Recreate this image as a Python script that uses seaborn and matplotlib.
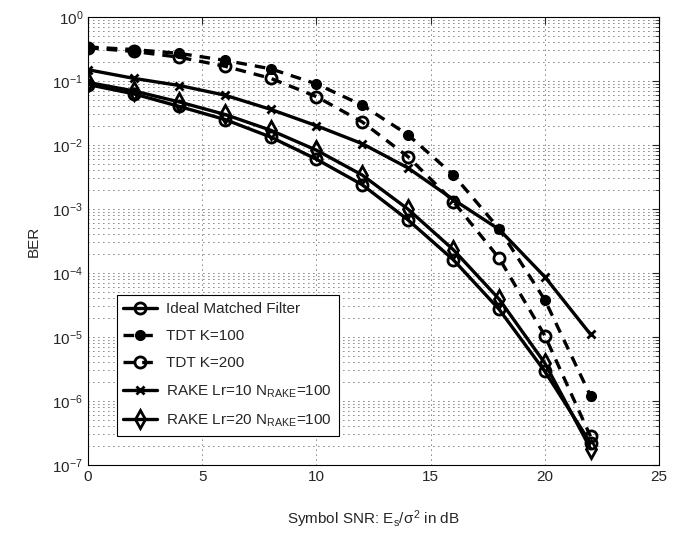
import matplotlib
matplotlib.use("Agg")
import matplotlib.pyplot as plt
import matplotlib.ticker as mticker
import seaborn as sns
import pandas as pd

# SNR points (dB)
snr = [0, 2, 4, 6, 8, 10, 12, 14, 16, 18, 20, 22]

ber_ideal = [0.088, 0.063, 0.040, 0.025, 0.0133, 0.006, 0.0024, 6.8e-4, 1.6e-4, 2.7e-5, 2.9e-6, 2.2e-7]
ber_tdt100 = [0.34, 0.31, 0.27, 0.21, 0.155, 0.09, 0.042, 0.0145, 0.0034, 4.9e-4, 3.8e-5, 1.2e-6]
ber_tdt200 = [0.33, 0.29, 0.235, 0.17, 0.11, 0.057, 0.023, 0.0066, 0.0013, 1.7e-4, 1.05e-5, 2.8e-7]
ber_rake10 = [0.15, 0.11, 0.085, 0.06, 0.036, 0.02, 0.0105, 0.0044, 0.0014, 4.8e-4, 8.7e-5, 1.1e-5]
ber_rake20 = [0.095, 0.07, 0.047, 0.03, 0.017, 0.0083, 0.0034, 0.001, 2.3e-4, 3.9e-5, 3.9e-6, 1.8e-7]

labels = ["Ideal Matched Filter", "TDT K=100", "TDT K=200",
          r"RAKE Lr=10 N$_\mathregular{RAKE}$=100",
          r"RAKE Lr=20 N$_\mathregular{RAKE}$=100"]

y_ticks = [1e-7, 1e-6, 1e-5, 1e-4, 1e-3, 1e-2, 1e-1, 1]
x_ticks = [0, 5, 10, 15, 20, 25]

sns.set_style("white")
plt.rcParams["font.family"] = ["Liberation Sans", "DejaVu Sans"]
plt.rcParams["mathtext.fontset"] = "custom"
plt.rcParams["mathtext.rm"] = "Liberation Sans"
plt.rcParams["mathtext.it"] = "Liberation Sans"

fig = plt.figure(figsize=(6.85, 5.33), dpi=100)
ax = fig.add_axes([0.1285, 0.1276, 0.8336, 0.8405])

dash = (0, (3.2, 2.4))
styles = [
    dict(ls="-", marker="o", mfc="none", ms=8, mew=2),
    dict(ls=dash, marker=".", mfc="k", ms=14, mew=1),
    dict(ls=dash, marker="o", mfc="none", ms=8, mew=2),
    dict(ls="-", marker="x", mfc="none", ms=6, mew=2),
    dict(ls="-", marker="d", mfc="none", ms=9, mew=2),
]
series = [ber_ideal, ber_tdt100, ber_tdt200, ber_rake10, ber_rake20]

for lab, ys, st in zip(labels, series, styles):
    df = pd.DataFrame({"snr": snr, "ber": ys})
    sns.lineplot(data=df, x="snr", y="ber", ax=ax, color="k", lw=2.4,
                 linestyle=st["ls"], marker=st["marker"], markersize=st["ms"],
                 markerfacecolor=st["mfc"], markeredgecolor="k",
                 markeredgewidth=st["mew"], label=lab)

ax.set_yscale("log")
ax.set_xlim(0, 25)
ax.set_ylim(1e-7, 1)
ax.set_xticks(x_ticks)
ax.set_yticks(y_ticks)
ax.yaxis.set_major_formatter(mticker.LogFormatterSciNotation())
ax.yaxis.set_minor_locator(mticker.LogLocator(base=10, subs=range(2, 10), numticks=20))
ax.yaxis.set_minor_formatter(mticker.NullFormatter())

dots = (0, (1, 5))
ax.grid(True, which="major", ls=dots, color="k", lw=0.6)
ax.grid(True, which="minor", axis="y", ls=dots, color="k", lw=0.6)
ax.tick_params(which="both", direction="in", top=True, right=True, labelsize=11)
ax.tick_params(which="major", length=5)
ax.tick_params(which="minor", length=3)
for s in ax.spines.values():
    s.set_color("k")
    s.set_linewidth(0.8)

ax.set_xlabel(r"Symbol SNR: E$_\mathregular{s}$/$\sigma^\mathregular{2}$ in dB", fontsize=11, labelpad=18)
ax.set_ylabel("BER", fontsize=11, labelpad=8)

leg = ax.legend(loc="lower left", bbox_to_anchor=(0.05, 0.065), fontsize=11,
                frameon=True, fancybox=False, edgecolor="k", framealpha=1,
                borderaxespad=0, handlelength=2.2, handletextpad=0.6,
                labelspacing=0.85, borderpad=0.45)
leg.get_frame().set_linewidth(0.8)

fig.savefig("out.png", dpi=100)
